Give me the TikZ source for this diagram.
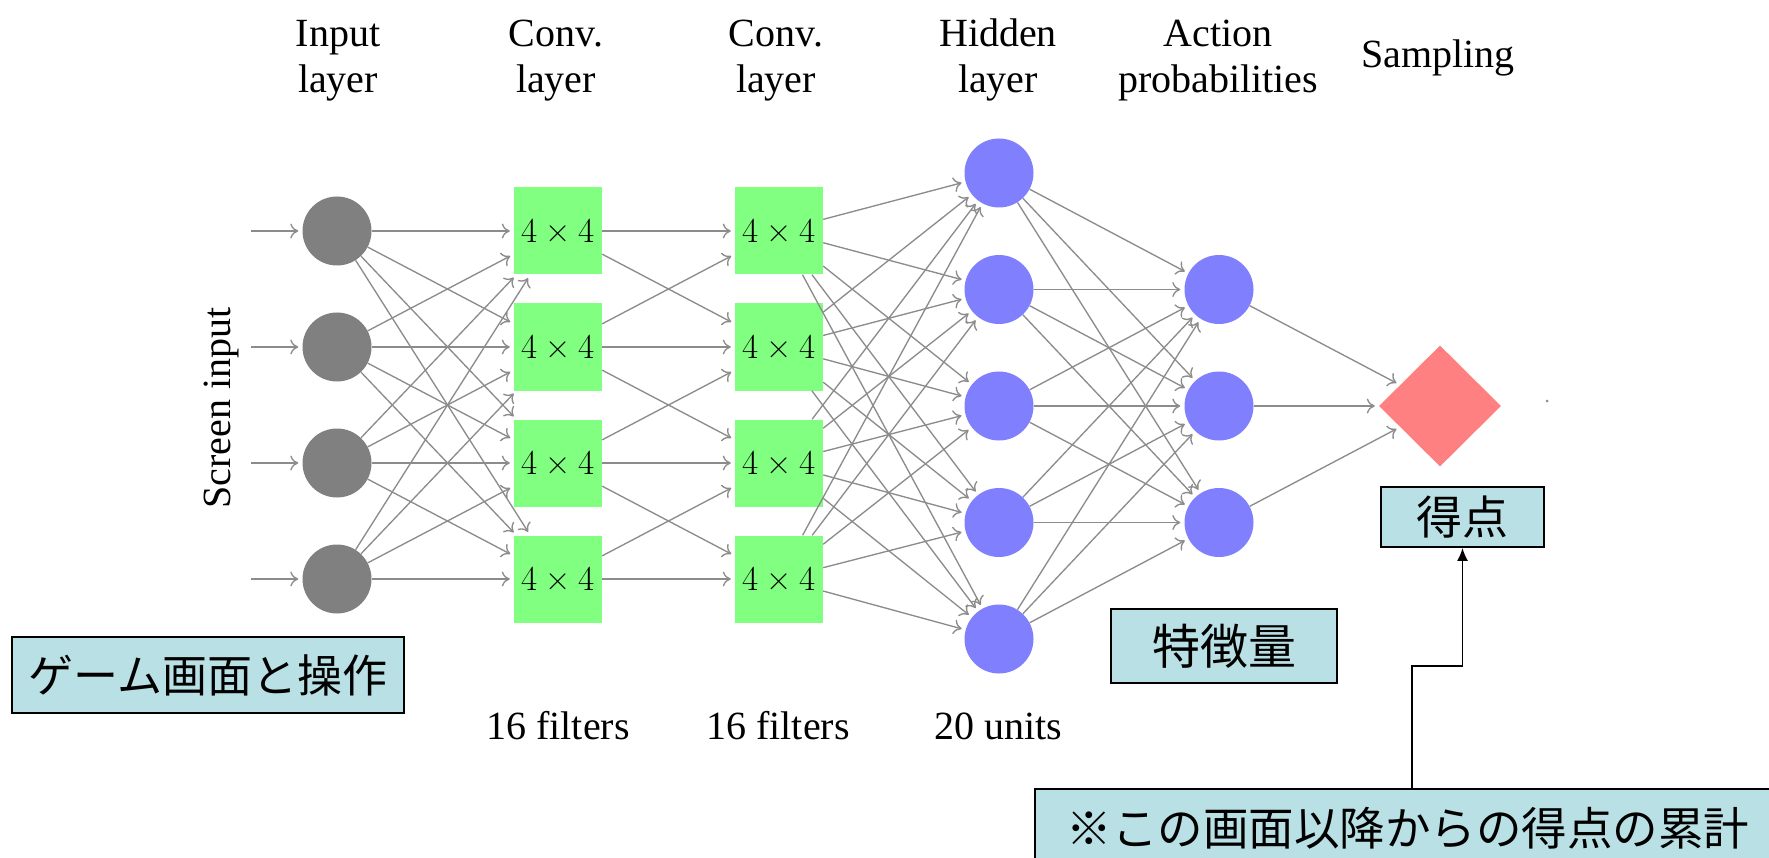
\documentclass[tikz,border=0pt]{standalone}
\usepackage[no-math]{fontspec}
\setmainfont{Liberation Serif}
\newfontfamily\jp{Noto Sans CJK JP}
\newfontfamily\lmfont{Latin Modern Roman}
\usetikzlibrary{arrows.meta,shapes.geometric}
\definecolor{boxfill}{RGB}{185,224,228}
\definecolor{inputgray}{RGB}{128,128,128}
\definecolor{convgreen}{RGB}{128,255,128}
\definecolor{hidblue}{RGB}{128,128,255}
\definecolor{samplered}{RGB}{255,128,128}
\definecolor{linkgray}{RGB}{140,140,140}
\newcommand{\fourbyfour}{4\hspace{0.222em}×\hspace{0.222em}4}
\begin{document}
\begin{tikzpicture}[x=1pt,y=-1pt,
  neuron/.style={circle,minimum size=69pt,inner sep=0pt},
  inputneuron/.style={neuron,fill=inputgray},
  hiddenneuron/.style={neuron,fill=hidblue},
  actionneuron/.style={neuron,fill=hidblue},
  convbox/.style={rectangle,fill=convgreen,minimum width=88pt,minimum height=87pt,inner sep=0pt,font=\lmfont\fontsize{35}{40}\selectfont},
  sampler/.style={diamond,fill=samplered,minimum width=122pt,minimum height=121pt,inner sep=0pt},
  conn/.style={draw=linkgray,line width=1.35pt,-{To[length=8pt,width=15pt]},shorten >=4pt},
  layerlabel/.style={font=\fontsize{40}{46}\selectfont,align=center,anchor=base,inner sep=0pt},
  jpbox/.style={draw=black,line width=1.8pt,fill=boxfill,inner sep=0pt},
]
\useasboundingbox (0,0) rectangle (1769,858);

% layer labels (base = last line)
\node[layerlabel] (lInput) at (338,93) {Input\\layer};
\node[layerlabel] (lConvA) at (556,93) {Conv.\\layer};
\node[layerlabel] (lConvB) at (776,93) {Conv.\\layer};
\node[layerlabel] (lHidden) at (998,93) {Hidden\\layer};
\node[layerlabel] (lAction) at (1218,93) {Action\\probabilities};
\node[layerlabel] (lSampling) at (1438,68) {Sampling};
\node[layerlabel] (fA) at (558,739) {16 filters};
\node[layerlabel] (fB) at (778,739) {16 filters};
\node[layerlabel] (fH) at (998,739) {20 units};
\node[layerlabel,rotate=90] (lScreen) at (230,408) {Screen input};

% nodes
\foreach \i/\y in {1/231,2/347,3/463,4/579} {
  \node[inputneuron] (I\i) at (337,\y) {};
  \node[convbox] (A\i) at (558,\y) {\fourbyfour};
  \node[convbox] (B\i) at (779,\y) {\fourbyfour};
  \coordinate (S\i) at (251,\y);
}
\foreach \i/\y in {1/173,2/289.5,3/406,4/522.5,5/639}
  \node[hiddenneuron] (H\i) at (999,\y) {};
\foreach \i/\y in {1/289.5,2/406,3/522.5}
  \node[actionneuron] (P\i) at (1219,\y) {};
\node[sampler] (D) at (1440,406) {};
\fill[linkgray] (1547,401) circle (1.5pt);

% connections
\foreach \i in {1,...,4} \draw[conn] (S\i) -- (I\i);
\foreach \i in {1,...,4} \foreach \j in {1,...,4} \draw[conn] (I\i) -- (A\j);
\foreach \i/\j in {1/1,1/2,2/1,2/2,2/3,3/2,3/3,3/4,4/3,4/4} \draw[conn] (A\i) -- (B\j);
\foreach \i in {1,...,4} \foreach \j in {1,...,5} \draw[conn] (B\i) -- (H\j);
\foreach \i in {1,...,5} \foreach \j in {1,2,3} \draw[conn] (H\i) -- (P\j);
\foreach \j in {1,2,3} \draw[conn] (P\j) -- (D);

% Japanese boxes
\node[jpbox,minimum width=392pt,minimum height=76pt,font=\jp\fontsize{45}{50}\selectfont] (game) at (208,675) {ゲーム画面と操作};
\node[jpbox,minimum width=226pt,minimum height=74pt,font=\jp\fontsize{48}{52}\selectfont] (feat) at (1224,646) {特徴量};
\node[jpbox,minimum width=163pt,minimum height=60pt,font=\jp\fontsize{46}{50}\selectfont] (score) at (1462.5,517) {得点};
\node[jpbox,anchor=north west,minimum height=78pt,text width=740pt,align=left,inner xsep=32pt,font=\jp\fontsize{45.5}{50}\selectfont] (cum) at (1034,788) {※この画面以降からの得点の累計};
\coordinate (c0) at (1412,788);
\draw[line width=1.8pt,-{Latex[length=13pt,width=11pt]}] (c0) -- ++(0,-122) -| (score.south);
\end{tikzpicture}
\end{document}
